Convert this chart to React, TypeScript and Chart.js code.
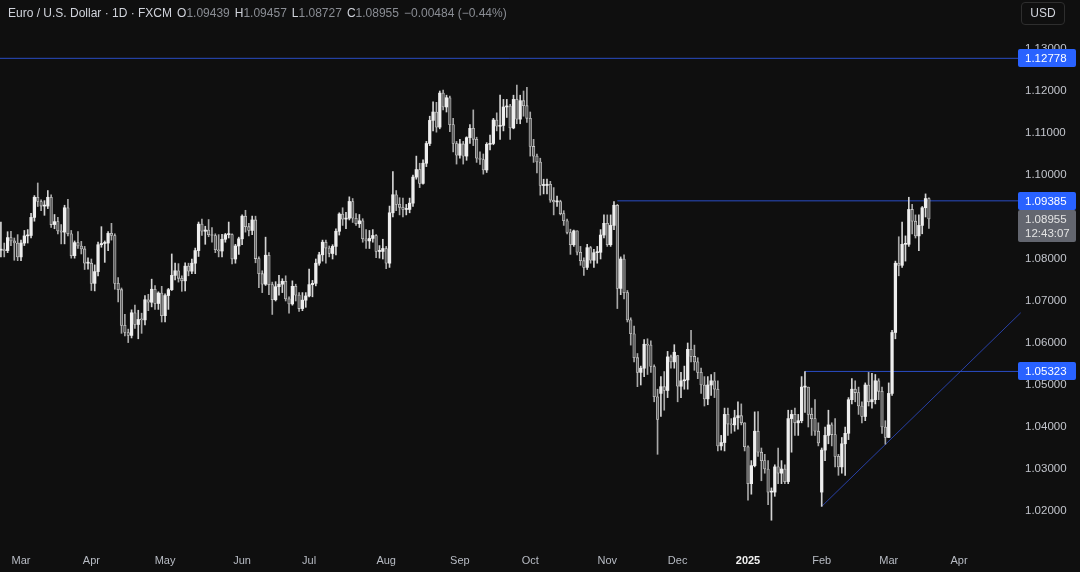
import React, { useEffect, useRef } from 'react';
import { Chart, registerables } from 'chart.js';

Chart.register(...registerables);

// ---- data: EUR/USD daily (FXCM), 22 Feb 2024 .. 19 Mar 2025 ----
const firstIndex = -6; // 22 Feb 2024 ; index 0 = 1 Mar 2024

const opens = [
  // Feb 24
  1.0821, 1.0822, 1.0820, 1.0851, 1.0843, 1.0838,
  // Mar 24
  1.0805, 1.0838, 1.0855, 1.0856, 1.0899, 1.0947, 1.0937, 1.0926, 1.0926, 1.0947, 1.0882, 1.0889, 1.0867, 1.0864, 1.0922, 1.0860, 1.0808, 1.0839, 1.0831, 1.0824, 1.0790,
  // Apr 24
  1.0790, 1.0742, 1.0770, 1.0834, 1.0837, 1.0838, 1.0861, 1.0856, 1.0742, 1.0727, 1.0642, 1.0625, 1.0618, 1.0672, 1.0644, 1.0656, 1.0655, 1.0703, 1.0697, 1.0728, 1.0694, 1.0719,
  // May 24
  1.0665, 1.0713, 1.0727, 1.0761, 1.0772, 1.0754, 1.0748, 1.0783, 1.0771, 1.0790, 1.0820, 1.0883, 1.0866, 1.0869, 1.0858, 1.0856, 1.0822, 1.0819, 1.0847, 1.0858, 1.0858, 1.0800, 1.0831,
  // Jun 24
  1.0848, 1.0902, 1.0877, 1.0868, 1.0893, 1.0801, 1.0765, 1.0740, 1.0809, 1.0739, 1.0703, 1.0734, 1.0740, 1.0747, 1.0705, 1.0693, 1.0735, 1.0714, 1.0682, 1.0702,
  // Jul 24
  1.0712, 1.0739, 1.0742, 1.0790, 1.0810, 1.0840, 1.0826, 1.0813, 1.0830, 1.0866, 1.0907, 1.0895, 1.0897, 1.0937, 1.0897, 1.0884, 1.0891, 1.0848, 1.0843, 1.0849, 1.0856, 1.0818, 1.0818,
  // Aug 24
  1.0825, 1.0790, 1.0910, 1.0953, 1.0930, 1.0923, 1.0918, 1.0918, 1.0933, 1.0995, 1.1013, 1.0980, 1.1028, 1.1075, 1.1130, 1.1150, 1.1114, 1.1195, 1.1162, 1.1184, 1.1120, 1.1075,
  // Sep 24
  1.1047, 1.1074, 1.1045, 1.1089, 1.1111, 1.1085, 1.1040, 1.1037, 1.1012, 1.1073, 1.1075, 1.1131, 1.1116, 1.1118, 1.1162, 1.1164, 1.1112, 1.1180, 1.1133, 1.1177, 1.1165,
  // Oct 24
  1.1135, 1.1068, 1.1045, 1.1031, 1.0975, 1.0975, 1.0978, 1.0940, 1.0936, 1.0937, 1.0908, 1.0891, 1.0863, 1.0834, 1.0867, 1.0816, 1.0796, 1.0780, 1.0827, 1.0797, 1.0815, 1.0816, 1.0857,
  // Nov 24
  1.0885, 1.0834, 1.0880, 1.0928, 1.0730, 1.0800, 1.0720, 1.0655, 1.0622, 1.0565, 1.0530, 1.0540, 1.0597, 1.0595, 1.0544, 1.0472, 1.0480, 1.0496, 1.0487, 1.0567, 1.0555,
  // Dec 24
  1.0570, 1.0497, 1.0510, 1.0512, 1.0585, 1.0568, 1.0555, 1.0530, 1.0500, 1.0467, 1.0500, 1.0510, 1.0490, 1.0355, 1.0363, 1.0430, 1.0407, 1.0405, 1.0422, 1.0427, 1.0410,
  // Jan 25
  1.0353, 1.0265, 1.0308, 1.0390, 1.0340, 1.0320, 1.0300, 1.0245, 1.0245, 1.0305, 1.0290, 1.0300, 1.0270, 1.0420, 1.0430, 1.0410, 1.0415, 1.0495, 1.0495, 1.0430, 1.0420, 1.0390,
  // Feb 25
  1.0245, 1.0345, 1.0380, 1.0405, 1.0382, 1.0330, 1.0305, 1.0360, 1.0385, 1.0465, 1.0490, 1.0482, 1.0450, 1.0425, 1.0500, 1.0460, 1.0465, 1.0510, 1.0485, 1.0400,
  // Mar 25
  1.0375, 1.0480, 1.0625, 1.0790, 1.0785, 1.0835, 1.0835, 1.0918, 1.0890, 1.0855, 1.0880, 1.0922, 1.09439,
];

const highs = [
  1.0888, 1.0838, 1.0865, 1.0866, 1.0850, 1.0858,
  1.0845, 1.0868, 1.0870, 1.0909, 1.0951, 1.0981, 1.0941, 1.0939, 1.0963, 1.0953, 1.0906, 1.0899, 1.0882, 1.0928, 1.0942, 1.0868, 1.0843, 1.0865, 1.0842, 1.0830, 1.0803,
  1.0800, 1.0786, 1.0840, 1.0877, 1.0843, 1.0865, 1.0885, 1.0860, 1.0756, 1.0731, 1.0668, 1.0633, 1.0679, 1.0690, 1.0678, 1.0671, 1.0713, 1.0716, 1.0752, 1.0737, 1.0722, 1.0735,
  1.0717, 1.0730, 1.0812, 1.0790, 1.0789, 1.0760, 1.0791, 1.0790, 1.0800, 1.0826, 1.0888, 1.0895, 1.0878, 1.0894, 1.0875, 1.0860, 1.0858, 1.0859, 1.0861, 1.0888, 1.0860, 1.0835, 1.0852,
  1.0905, 1.0916, 1.0885, 1.0902, 1.0902, 1.0805, 1.0772, 1.0852, 1.0815, 1.0745, 1.0746, 1.0761, 1.0753, 1.0760, 1.0710, 1.0748, 1.0740, 1.0720, 1.0720, 1.0720,
  1.0776, 1.0749, 1.0800, 1.0816, 1.0845, 1.0845, 1.0831, 1.0834, 1.0872, 1.0910, 1.0922, 1.0911, 1.0948, 1.0944, 1.0908, 1.0906, 1.0896, 1.0870, 1.0868, 1.0870, 1.0858, 1.0832, 1.0847,
  1.0830, 1.0926, 1.1008, 1.0963, 1.0946, 1.0945, 1.0930, 1.0945, 1.1000, 1.1045, 1.1028, 1.1036, 1.1080, 1.1140, 1.1174, 1.1173, 1.1200, 1.1202, 1.1190, 1.1188, 1.1135, 1.1080,
  1.1085, 1.1080, 1.1091, 1.1120, 1.1155, 1.1090, 1.1055, 1.1050, 1.1077, 1.1095, 1.1135, 1.1148, 1.1190, 1.1180, 1.1180, 1.1168, 1.1190, 1.1214, 1.1190, 1.1200, 1.1209,
  1.1150, 1.1085, 1.1050, 1.1040, 1.0990, 1.0990, 1.0985, 1.0970, 1.0950, 1.0940, 1.0915, 1.0895, 1.0871, 1.0869, 1.0867, 1.0830, 1.0803, 1.0835, 1.0830, 1.0823, 1.0830, 1.0870, 1.0905,
  1.0905, 1.0905, 1.0937, 1.0930, 1.0805, 1.0810, 1.0725, 1.0660, 1.0640, 1.0575, 1.0545, 1.0608, 1.0610, 1.0605, 1.0548, 1.0490, 1.0520, 1.0532, 1.0580, 1.0571, 1.0596,
  1.0570, 1.0530, 1.0545, 1.0600, 1.0630, 1.0595, 1.0565, 1.0540, 1.0520, 1.0520, 1.0525, 1.0530, 1.0510, 1.0380, 1.0445, 1.0445, 1.0420, 1.0440, 1.0460, 1.0455, 1.0410,
  1.0355, 1.0320, 1.0436, 1.0437, 1.0350, 1.0335, 1.0320, 1.0255, 1.0310, 1.0350, 1.0320, 1.0310, 1.0440, 1.0440, 1.0445, 1.0430, 1.0520, 1.0532, 1.0495, 1.0445, 1.0465, 1.0410,
  1.0350, 1.0400, 1.0440, 1.0410, 1.0420, 1.0335, 1.0375, 1.0400, 1.0470, 1.0515, 1.0510, 1.0495, 1.0460, 1.0505, 1.0530, 1.0528, 1.0525, 1.0515, 1.0495, 1.0415,
  1.0505, 1.0630, 1.0795, 1.0853, 1.0888, 1.0855, 1.0947, 1.0930, 1.0905, 1.0905, 1.0925, 1.0955, 1.09457,
];

const lows = [
  1.0805, 1.0805, 1.0815, 1.0832, 1.0797, 1.0796,
  1.0796, 1.0832, 1.0838, 1.0850, 1.0890, 1.0925, 1.0915, 1.0904, 1.0920, 1.0875, 1.0872, 1.0860, 1.0836, 1.0836, 1.0855, 1.0802, 1.0802, 1.0825, 1.0812, 1.0775, 1.0776,
  1.0725, 1.0724, 1.0760, 1.0828, 1.0792, 1.0820, 1.0845, 1.0728, 1.0698, 1.0623, 1.0617, 1.0601, 1.0612, 1.0635, 1.0610, 1.0623, 1.0643, 1.0677, 1.0686, 1.0680, 1.0680, 1.0650,
  1.0650, 1.0680, 1.0725, 1.0750, 1.0745, 1.0723, 1.0724, 1.0760, 1.0765, 1.0765, 1.0806, 1.0856, 1.0835, 1.0853, 1.0840, 1.0815, 1.0805, 1.0805, 1.0840, 1.0850, 1.0788, 1.0790, 1.0811,
  1.0834, 1.0864, 1.0855, 1.0858, 1.0791, 1.0732, 1.0720, 1.0737, 1.0715, 1.0668, 1.0700, 1.0714, 1.0720, 1.0700, 1.0671, 1.0690, 1.0700, 1.0675, 1.0677, 1.0685,
  1.0710, 1.0710, 1.0736, 1.0785, 1.0795, 1.0790, 1.0805, 1.0800, 1.0810, 1.0857, 1.0880, 1.0872, 1.0893, 1.0887, 1.0880, 1.0875, 1.0840, 1.0825, 1.0825, 1.0840, 1.0803, 1.0802, 1.0800,
  1.0777, 1.0780, 1.0900, 1.0915, 1.0905, 1.0900, 1.0905, 1.0910, 1.0925, 1.0990, 1.0970, 1.0978, 1.1020, 1.1070, 1.1105, 1.1102, 1.1110, 1.1155, 1.1150, 1.1103, 1.1055, 1.1026,
  1.1040, 1.1026, 1.1035, 1.1075, 1.1070, 1.1030, 1.1025, 1.1002, 1.1006, 1.1060, 1.1072, 1.1105, 1.1085, 1.1105, 1.1137, 1.1085, 1.1110, 1.1122, 1.1122, 1.1140, 1.1125,
  1.1045, 1.1030, 1.1005, 1.0952, 1.0955, 1.0955, 1.0935, 1.0905, 1.0925, 1.0905, 1.0880, 1.0860, 1.0811, 1.0830, 1.0810, 1.0785, 1.0761, 1.0775, 1.0790, 1.0780, 1.0790, 1.0800, 1.0850,
  1.0830, 1.0830, 1.0870, 1.0682, 1.0715, 1.0705, 1.0650, 1.0595, 1.0555, 1.0496, 1.0500, 1.0520, 1.0525, 1.0530, 1.0460, 1.0335, 1.0425, 1.0440, 1.0470, 1.0540, 1.0540,
  1.0460, 1.0470, 1.0490, 1.0490, 1.0555, 1.0535, 1.0515, 1.0480, 1.0450, 1.0453, 1.0475, 1.0470, 1.0343, 1.0345, 1.0343, 1.0380, 1.0385, 1.0390, 1.0395, 1.0405, 1.0343,
  1.0226, 1.0240, 1.0305, 1.0330, 1.0272, 1.0290, 1.0215, 1.0178, 1.0235, 1.0265, 1.0265, 1.0265, 1.0265, 1.0340, 1.0380, 1.0380, 1.0410, 1.0435, 1.0400, 1.0380, 1.0380, 1.0355,
  1.0211, 1.0320, 1.0360, 1.0355, 1.0305, 1.0285, 1.0290, 1.0285, 1.0370, 1.0455, 1.0460, 1.0430, 1.0410, 1.0415, 1.0450, 1.0445, 1.0455, 1.0465, 1.0385, 1.0359,
  1.0375, 1.0475, 1.0610, 1.0760, 1.0780, 1.0795, 1.0830, 1.0860, 1.0850, 1.0820, 1.0860, 1.0900, 1.08727,
];

const closes = [
  1.0822, 1.0820, 1.0851, 1.0843, 1.0838, 1.0805,
  1.0838, 1.0855, 1.0856, 1.0899, 1.0947, 1.0937, 1.0926, 1.0926, 1.0947, 1.0882, 1.0889, 1.0867, 1.0864, 1.0922, 1.0860, 1.0808, 1.0839, 1.0831, 1.0824, 1.0790, 1.0790,
  1.0742, 1.0770, 1.0834, 1.0837, 1.0838, 1.0861, 1.0856, 1.0742, 1.0727, 1.0642, 1.0625, 1.0618, 1.0672, 1.0644, 1.0656, 1.0655, 1.0703, 1.0697, 1.0728, 1.0694, 1.0719, 1.0665,
  1.0713, 1.0727, 1.0761, 1.0772, 1.0754, 1.0748, 1.0783, 1.0771, 1.0790, 1.0820, 1.0883, 1.0866, 1.0869, 1.0858, 1.0856, 1.0822, 1.0819, 1.0847, 1.0858, 1.0858, 1.0800, 1.0831, 1.0848,
  1.0902, 1.0877, 1.0868, 1.0893, 1.0801, 1.0765, 1.0740, 1.0809, 1.0739, 1.0703, 1.0734, 1.0740, 1.0747, 1.0705, 1.0693, 1.0735, 1.0714, 1.0682, 1.0702, 1.0712,
  1.0739, 1.0742, 1.0790, 1.0810, 1.0840, 1.0826, 1.0813, 1.0830, 1.0866, 1.0907, 1.0895, 1.0897, 1.0937, 1.0897, 1.0884, 1.0891, 1.0848, 1.0843, 1.0849, 1.0856, 1.0818, 1.0818, 1.0825,
  1.0790, 1.0910, 1.0953, 1.0930, 1.0923, 1.0918, 1.0918, 1.0933, 1.0995, 1.1013, 1.0980, 1.1028, 1.1075, 1.1130, 1.1150, 1.1114, 1.1195, 1.1162, 1.1184, 1.1120, 1.1075, 1.1047,
  1.1074, 1.1045, 1.1089, 1.1111, 1.1085, 1.1040, 1.1037, 1.1012, 1.1073, 1.1075, 1.1131, 1.1116, 1.1118, 1.1162, 1.1164, 1.1112, 1.1180, 1.1133, 1.1177, 1.1165, 1.1135,
  1.1068, 1.1045, 1.1031, 1.0975, 1.0975, 1.0978, 1.0940, 1.0936, 1.0937, 1.0908, 1.0891, 1.0863, 1.0834, 1.0867, 1.0816, 1.0796, 1.0780, 1.0827, 1.0797, 1.0815, 1.0816, 1.0857, 1.0885,
  1.0834, 1.0880, 1.0928, 1.0730, 1.0800, 1.0720, 1.0655, 1.0622, 1.0565, 1.0530, 1.0540, 1.0597, 1.0595, 1.0544, 1.0472, 1.0418, 1.0496, 1.0487, 1.0567, 1.0555, 1.0578,
  1.0497, 1.0510, 1.0512, 1.0585, 1.0568, 1.0555, 1.0530, 1.0500, 1.0467, 1.0500, 1.0510, 1.0490, 1.0355, 1.0363, 1.0430, 1.0407, 1.0405, 1.0422, 1.0427, 1.0410, 1.0353,
  1.0265, 1.0308, 1.0390, 1.0340, 1.0320, 1.0300, 1.0245, 1.0245, 1.0305, 1.0290, 1.0300, 1.0270, 1.0420, 1.0430, 1.0410, 1.0415, 1.0495, 1.0495, 1.0430, 1.0420, 1.0390, 1.0362,
  1.0345, 1.0380, 1.0405, 1.0382, 1.0330, 1.0305, 1.0360, 1.0385, 1.0465, 1.0490, 1.0482, 1.0450, 1.0425, 1.0500, 1.0460, 1.0465, 1.0510, 1.0485, 1.0400, 1.0375,
  1.0480, 1.0625, 1.0790, 1.0785, 1.0835, 1.0835, 1.0918, 1.0890, 1.0855, 1.0880, 1.0922, 1.0944, 1.08955,
];

// time axis: trading-day index of the first session of each month
const monthTickIndex = [0, 21, 43, 66, 86, 109, 131, 152, 175, 196, 217, 239, 259, 280];
const monthTickLabels = ['Mar', 'Apr', 'May', 'Jun', 'Jul', 'Aug', 'Sep', 'Oct', 'Nov', 'Dec', '2025', 'Feb', 'Mar', 'Apr'];

const priceTicks = [1.02, 1.03, 1.04, 1.05, 1.06, 1.07, 1.08, 1.09, 1.10, 1.11, 1.12, 1.13];

// horizontal levels drawn on the chart (value, starting bar index)
const levelValues = [1.12778, 1.09385, 1.05323];
const levelStart = [-7, 178, 234];

// rising trend line (bar index, price)
const trendX = [239, 298.4];
const trendY = [1.0211, 1.0672];

const lastPrice = 1.08955;
const countdown = '12:43:07';

const xMin = -6.27;
const xMax = 296.1;
const yMin = 1.013095;
const yMax = 1.141667;

const FONT = '"Liberation Sans", "DejaVu Sans", sans-serif';

const priceLabelPlugin = {
  id: 'priceLabels',
  afterDatasetsDraw(chart: any) {
    const { ctx } = chart;
    const y = chart.scales.y;
    const boxX = 1018;
    const boxW = 58;
    ctx.save();
    ctx.font = `11.5px ${FONT}`;
    ctx.textBaseline = 'middle';
    ctx.textAlign = 'left';
    levelValues.forEach((v) => {
      const py = Math.round(y.getPixelForValue(v));
      ctx.fillStyle = '#2962ff';
      ctx.beginPath();
      ctx.roundRect(boxX, py - 9, boxW, 18, 2);
      ctx.fill();
      ctx.fillStyle = '#ffffff';
      ctx.fillText(v.toFixed(5), boxX + 7, py + 0.5);
    });
    const py = Math.round(y.getPixelForValue(lastPrice));
    ctx.fillStyle = '#63666f';
    ctx.beginPath();
    ctx.roundRect(boxX, py - 9, boxW, 32, 2);
    ctx.fill();
    ctx.fillStyle = '#e4e4e4';
    ctx.fillText(lastPrice.toFixed(5), boxX + 7, py + 0.5);
    ctx.fillText(countdown, boxX + 7, py + 15);
    ctx.restore();
  },
};

export default function App() {
  const canvasRef = useRef<HTMLCanvasElement | null>(null);

  useEffect(() => {
    const canvas = canvasRef.current;
    if (!canvas) return;

    const up = closes.map((c, i) => c >= opens[i]);
    const wickData = highs.map((h, i) => ({ x: firstIndex + i, y: [lows[i], h] }));
    const bodyData = closes.map((c, i) => ({ x: firstIndex + i, y: [opens[i], c] }));

    const levelDatasets = levelValues.map((v, k) => ({
      type: 'line' as const,
      data: [
        { x: levelStart[k], y: v },
        { x: 298.4, y: v },
      ],
      borderColor: '#2a4cc4',
      borderWidth: 1,
      pointRadius: 0,
      tension: 0,
      clip: false as any,
      order: 3,
    }));

    const chart = new Chart(canvas, {
      type: 'bar',
      data: {
        datasets: [
          {
            type: 'bar',
            data: wickData as any,
            backgroundColor: (ctx: any) => (up[ctx.dataIndex] ? '#d4d4d4' : '#a8a8a8'),
            barThickness: 1,
            grouped: false,
            borderWidth: 0,
            order: 2,
          } as any,
          {
            type: 'bar',
            data: bodyData as any,
            backgroundColor: (ctx: any) => (up[ctx.dataIndex] ? '#eeeeee' : '#5e5e5e'),
            borderColor: (ctx: any) => (up[ctx.dataIndex] ? '#eeeeee' : '#c6c6c6'),
            borderWidth: (ctx: any) => (up[ctx.dataIndex] ? 0 : 0.8),
            borderSkipped: false,
            barThickness: 2.6,
            minBarLength: 1,
            grouped: false,
            order: 1,
          } as any,
          ...levelDatasets,
          {
            type: 'line',
            data: trendX.map((x, i) => ({ x, y: trendY[i] })),
            borderColor: '#2840a6',
            borderWidth: 1,
            pointRadius: 0,
            tension: 0,
            clip: false as any,
            order: 3,
          } as any,
        ],
      },
      options: {
        responsive: false,
        animation: false,
        devicePixelRatio: 1,
        events: [],
        layout: { padding: 0 },
        plugins: {
          legend: { display: false },
          tooltip: { enabled: false },
          title: { display: false },
        },
        scales: {
          x: {
            type: 'linear',
            position: 'bottom',
            min: xMin,
            max: xMax,
            offset: false,
            grid: { display: false, drawTicks: false },
            border: { display: false },
            afterBuildTicks: (scale: any) => {
              scale.ticks = monthTickIndex.map((v) => ({ value: v }));
            },
            afterFit: (scale: any) => {
              scale.height = 32;
              scale.paddingLeft = 0;
              scale.paddingRight = 0;
            },
            ticks: {
              autoSkip: false,
              maxRotation: 0,
              minRotation: 0,
              padding: 14,
              color: (ctx: any) => (ctx.tick && ctx.tick.label === '2025' ? '#f0f0f0' : '#b8bcc4'),
              font: (ctx: any) =>
                ctx.tick && ctx.tick.label === '2025'
                  ? { family: FONT, size: 11, weight: 'bold' }
                  : { family: FONT, size: 11 },
              callback: (value: any) => {
                const k = monthTickIndex.indexOf(Number(value));
                return k >= 0 ? monthTickLabels[k] : '';
              },
            },
          },
          y: {
            type: 'linear',
            position: 'right',
            min: yMin,
            max: yMax,
            grid: { display: false, drawTicks: false },
            border: { display: false },
            afterBuildTicks: (scale: any) => {
              scale.ticks = priceTicks.map((v) => ({ value: v }));
            },
            afterFit: (scale: any) => {
              scale.width = 67;
              scale.paddingTop = 0;
              scale.paddingBottom = 0;
            },
            ticks: {
              padding: 12,
              color: '#c2c5cc',
              font: { family: FONT, size: 11.5 },
              callback: (value: any) => Number(value).toFixed(5),
            },
          },
        },
      } as any,
      plugins: [priceLabelPlugin],
    });

    return () => {
      chart.destroy();
    };
  }, []);

  const valStyle: React.CSSProperties = { color: '#8a8d94' };
  const keyStyle: React.CSSProperties = { color: '#d1d4dc', marginLeft: 5 };

  return (
    <div
      style={{
        position: 'fixed',
        left: 0,
        top: 0,
        width: 1080,
        height: 572,
        background: '#0f0f0f',
        overflow: 'hidden',
      }}
    >
      <canvas ref={canvasRef} width={1080} height={572} style={{ display: 'block', width: 1080, height: 572 }} />
      <div
        style={{
          position: 'absolute',
          left: 8,
          top: 5,
          fontFamily: FONT,
          fontSize: 12,
          color: '#d1d4dc',
          whiteSpace: 'nowrap',
          lineHeight: '16px',
        }}
      >
        <span>Euro / U.S. Dollar · 1D · FXCM</span>
        <span style={keyStyle}>O</span>
        <span style={valStyle}>1.09439</span>
        <span style={keyStyle}>H</span>
        <span style={valStyle}>1.09457</span>
        <span style={keyStyle}>L</span>
        <span style={valStyle}>1.08727</span>
        <span style={keyStyle}>C</span>
        <span style={valStyle}>1.08955</span>
        <span style={{ ...valStyle, marginLeft: 5 }}>−0.00484 (−0.44%)</span>
      </div>
      <div
        style={{
          position: 'absolute',
          left: 1021,
          top: 2,
          width: 44,
          height: 23,
          boxSizing: 'border-box',
          border: '1px solid #2e2e2e',
          borderRadius: 4,
          color: '#d1d4dc',
          fontFamily: FONT,
          fontSize: 12,
          lineHeight: '21px',
          textAlign: 'center',
        }}
      >
        USD
      </div>
    </div>
  );
}
